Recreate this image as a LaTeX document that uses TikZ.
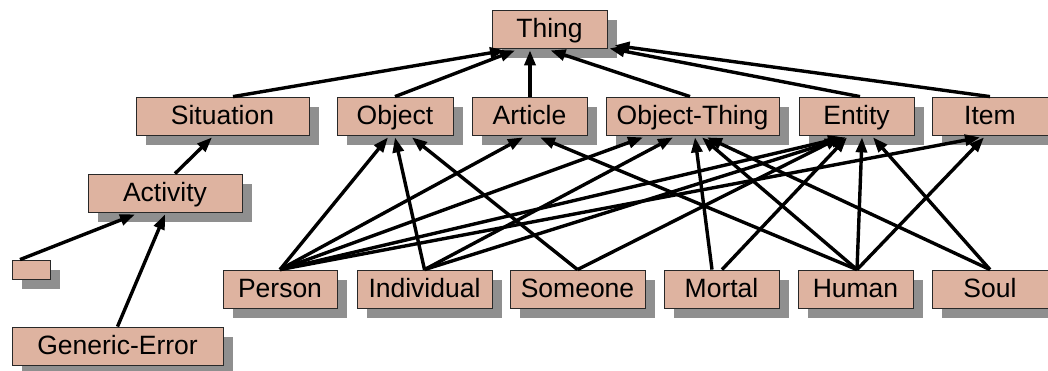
\documentclass[tikz,border=0pt]{standalone}
\usepackage{fontspec}
\setmainfont{Liberation Sans}
\usetikzlibrary{shadows,arrows.meta}

\definecolor{boxfill}{RGB}{222,179,160}
\definecolor{boxline}{RGB}{40,40,40}
\definecolor{shadowgray}{RGB}{143,143,143}

\tikzset{
  box/.style={draw=boxline, line width=0.8pt, fill=boxfill, inner sep=0pt,
    minimum height=38pt, text height=17pt, text depth=0pt,
    font=\fontsize{26.5}{30}\selectfont,
    drop shadow={shadow xshift=10pt, shadow yshift=-10pt, fill=shadowgray, opacity=1}},
  isa/.style={-{Triangle[length=15pt,width=11pt]}, line width=3.4pt},
}

\begin{document}
\begin{tikzpicture}[x=1pt,y=-1pt]
\useasboundingbox[fill=white] (0,0) rectangle (1048,371);

% top concept
\node[box, minimum width=115pt] (thing) at (549.5,29) {Thing};

% second row
\node[box, minimum width=173pt] (situation) at (222.5,116) {Situation};
\node[box, minimum width=116pt] (object)    at (395,116)   {Object};
\node[box, minimum width=115pt] (article)   at (529.5,116) {Article};
\node[box, minimum width=173pt] (objthing)  at (692.5,116) {Object-Thing};
\node[box, minimum width=115pt] (entity)    at (856.5,116) {Entity};
\node[box, minimum width=116pt] (item)      at (990,116)   {Item};

% left branch
\node[box, minimum width=154pt] (activity) at (165,193) {Activity};
\node[box, minimum width=38pt, minimum height=19pt] (small) at (31,269.5) {};
\node[box, minimum width=211pt] (generic) at (117.5,346) {Generic-Error};

% bottom row
\node[box, minimum width=114pt] (person)     at (280,289)   {Person};
\node[box, minimum width=135pt] (individual) at (424.5,289) {Individual};
\node[box, minimum width=135pt] (someone)    at (577.5,289) {Someone};
\node[box, minimum width=115pt] (mortal)     at (721.5,289) {Mortal};
\node[box, minimum width=115pt] (human)      at (855.5,289) {Human};
\node[box, minimum width=116pt] (soul)       at (990,289)   {Soul};

% links to Thing
\draw[isa] ([xshift=10.5pt]situation.north) -- ([xshift=-44.5pt,yshift=-2pt]thing.south);
\draw[isa] (object.north) -- ([xshift=-34.5pt,yshift=-2pt]thing.south);
\draw[isa] ([xshift=0.5pt]article.north) -- ([xshift=-19.5pt,yshift=-2pt]thing.south);
\draw[isa] ([xshift=-2.5pt]objthing.north) -- ([xshift=1pt,yshift=-2pt]thing.south);
\draw[isa] ([xshift=3.5pt]entity.north) -- ([xshift=60pt]thing.south);
\draw[isa] (item.north) -- ([xshift=65pt,yshift=3pt]thing.south);

% left branch links
\draw[isa] ([xshift=10pt]activity.north) -- ([xshift=-10.5pt,yshift=-2pt]situation.south);
\draw[isa] ([xshift=-11pt]small.north) -- ([xshift=-30pt,yshift=-2pt]activity.south);
\draw[isa] (generic.north) -- ([yshift=-2pt]activity.south);

% bottom row links
\draw[isa] (person.north) -- ([xshift=-7pt,yshift=-2pt]object.south);
\draw[isa] (person.north) -- ([xshift=-6.5pt,yshift=-2pt]article.south);
\draw[isa] (person.north) -- ([xshift=-49.5pt,yshift=-2pt]objthing.south);
\draw[isa] (person.north) -- ([xshift=-13.5pt,yshift=-2pt]entity.south);
\draw[isa] (person.north) -- ([xshift=-10pt,yshift=-2pt]item.south);
\draw[isa] (individual.north) -- ([yshift=-2pt]object.south);
\draw[isa] (individual.north) -- ([xshift=-19.5pt,yshift=-2pt]objthing.south);
\draw[isa] (individual.north) -- ([xshift=-10.5pt,yshift=-2pt]entity.south);
\draw[isa] (someone.north) -- ([xshift=17pt,yshift=-2pt]object.south);
\draw[isa] (someone.north) -- ([xshift=-16.5pt,yshift=-2pt]entity.south);
\draw[isa] ([xshift=-9.5pt]mortal.north) -- ([xshift=2.5pt,yshift=-2pt]objthing.south);
\draw[isa] ([xshift=0.5pt]mortal.north) -- ([xshift=-9.5pt,yshift=-2pt]entity.south);
\draw[isa] ([xshift=1.5pt]human.north) -- ([xshift=10.5pt,yshift=-2pt]article.south);
\draw[isa] ([xshift=1.5pt]human.north) -- ([xshift=9.5pt,yshift=-2pt]objthing.south);
\draw[isa] ([xshift=1.5pt]human.north) -- ([xshift=5.5pt,yshift=-2pt]entity.south);
\draw[isa] ([xshift=1.5pt]human.north) -- ([xshift=-6pt,yshift=-2pt]item.south);
\draw[isa] (soul.north) -- ([xshift=14.5pt,yshift=-2pt]objthing.south);
\draw[isa] (soul.north) -- ([xshift=16.5pt,yshift=-2pt]entity.south);
\end{tikzpicture}
\end{document}
